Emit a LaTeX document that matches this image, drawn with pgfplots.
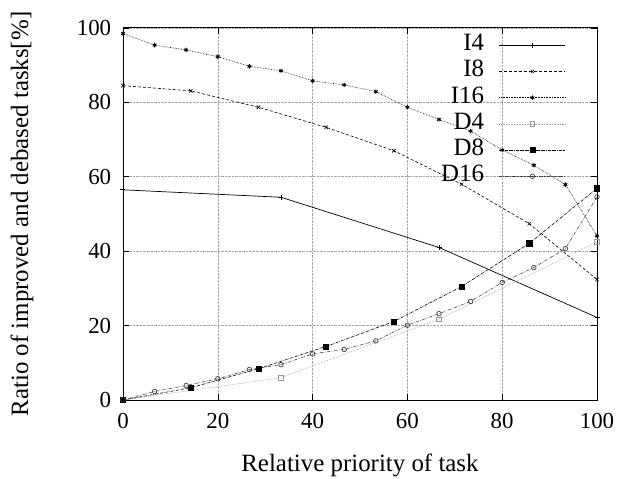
\documentclass[border=0pt]{standalone}
\usepackage{fontspec}
\setmainfont{Liberation Serif}
\usepackage{pgfplots}
\pgfplotsset{compat=1.18}
\begin{document}
\begin{tikzpicture}
\begin{axis}[
  scale only axis,
  width=474bp, height=372bp,
  xmin=0, xmax=100, ymin=0, ymax=100,
  xtick={0,20,...,100}, ytick={0,20,...,100},
  /pgf/number format/assume math mode=true,
  tick label style={font=\fontsize{23}{25}\selectfont},
  xticklabel style={yshift=-10bp},
  yticklabel style={xshift=-8.3bp},
  tick align=inside, tickwidth=6bp,
  major tick style={black, line width=0.6pt},
  axis line style={line width=1pt},
  grid=major,
  grid style={gray!70, densely dotted, line width=0.6pt},
  xlabel={Relative priority of task},
  ylabel={Ratio of improved and debased tasks[\%]},
  every axis x label/.style={at={(axis description cs:0.5,-0.177)},anchor=center,font=\fontsize{25}{27}\selectfont},
  every axis y label/.style={at={(axis description cs:-0.213,0.5)},rotate=90,anchor=center,font=\fontsize{25}{27}\selectfont},
  legend plot pos=right,
  legend cell align=right,
  legend image code/.code={\draw[mark repeat=2,mark phase=2,#1] plot coordinates {(0bp,0bp) (33bp,0bp) (66bp,0bp)};},
  legend style={at={(axis description cs:1,1)}, anchor=north east, xshift=-31bp, yshift=-4bp,
    draw=none, fill=none, inner sep=0pt, row sep=0pt, column sep=15bp,
    font=\fontsize{25}{25}\selectfont,
    nodes={inner sep=0pt, text height=18.5bp, text depth=7.7bp}},
]
\addplot[black, line width=0.7pt, mark=+, mark size=2.5bp] coordinates {
 (0,56.5) (33.33,54.5) (66.67,41.0) (100,22.2)};
\addlegendentry{I4}
\addplot[black, densely dashed, line width=0.6pt, mark=x, mark size=2.5bp, mark options={solid}] coordinates {
 (0,84.5) (14.29,83.1) (28.57,78.7) (42.86,73.3) (57.14,67.0) (71.43,58.0) (85.71,47.4) (100,32.4)};
\addlegendentry{I8}
\addplot[black, densely dotted, line width=0.6pt, mark=asterisk, mark size=2.2bp, mark options={solid, line width=0.9pt}] coordinates {
 (0,98.5) (6.67,95.4) (13.33,94.1) (20,92.3) (26.67,89.7) (33.33,88.5) (40,85.8) (46.67,84.7)
 (53.33,82.9) (60,78.7) (66.67,75.4) (73.33,72.3) (80,67.2) (86.67,63.1) (93.33,57.9) (100,44.1)};
\addlegendentry{I16}
\addplot[gray!80, densely dotted, line width=0.6pt, mark=square, mark size=2.3bp, mark options={solid, line width=0.7pt}] coordinates {
 (0,0) (33.33,6.0) (66.67,21.7) (100,42.5)};
\addlegendentry{D4}
\addplot[black, densely dashdotted, line width=0.6pt, mark=square*, mark size=2.6bp, mark options={solid}] coordinates {
 (0,0) (14.29,3.3) (28.57,8.4) (42.86,14.4) (57.14,21.1) (71.43,30.5) (85.71,42.1) (100,56.9)};
\addlegendentry{D8}
\addplot[black!75, densely dashdotdotted, line width=0.6pt, mark=o, mark size=2.3bp, mark options={solid, line width=0.7pt}] coordinates {
 (0,0) (6.67,2.3) (13.33,3.9) (20,5.7) (26.67,8.2) (33.33,9.5) (40,12.4) (46.67,13.6)
 (53.33,15.9) (60,20.1) (66.67,23.2) (73.33,26.5) (80,31.6) (86.67,35.6) (93.33,40.7) (100,54.6)};
\addlegendentry{D16}
\end{axis}
\pgfresetboundingbox
\path (-123bp,-79bp) rectangle (496bp,400bp);
\end{tikzpicture}
\end{document}
